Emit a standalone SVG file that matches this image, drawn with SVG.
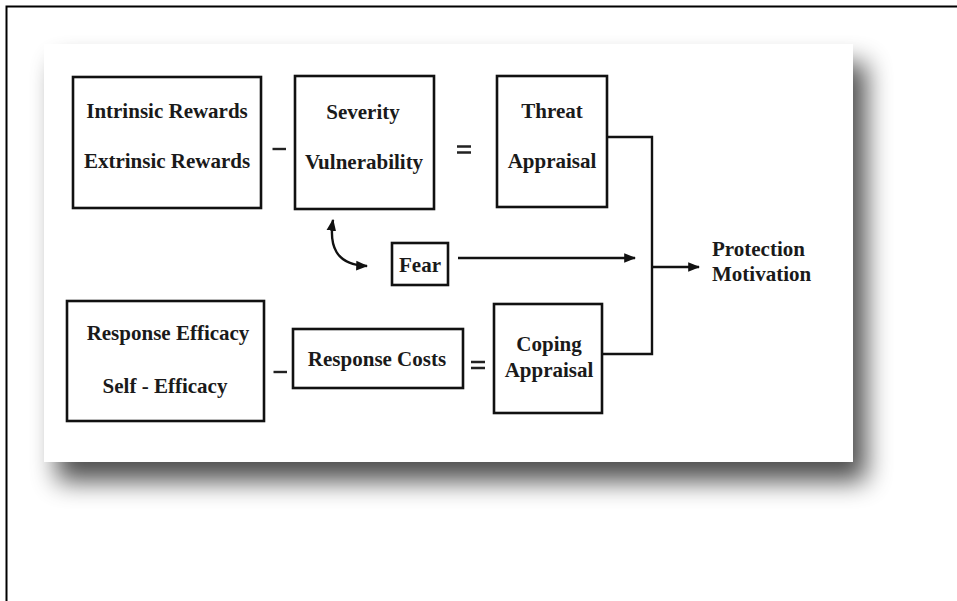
<svg xmlns="http://www.w3.org/2000/svg" width="957" height="601" viewBox="0 0 957 601">
  <style>
    .box { fill: none; stroke: #111; stroke-width: 2.6; }
    .lbl { font-family: "Liberation Serif", "Times New Roman", serif; font-weight: bold; font-size: 21px; fill: #1a1a1a; text-anchor: middle; }
    .op { stroke: #222; stroke-width: 2.4; fill: none; }
    .wire { stroke: #111; stroke-width: 2.4; fill: none; }
  </style>
  <defs>
    <filter id="cardShadow" x="-10%" y="-10%" width="130%" height="140%">
      <feGaussianBlur in="SourceAlpha" stdDeviation="13"/>
      <feOffset dx="13" dy="19" result="blur"/>
      <feComponentTransfer><feFuncA type="linear" slope="0.7"/></feComponentTransfer>
      <feMerge><feMergeNode/><feMergeNode in="SourceGraphic"/></feMerge>
    </filter>
    <marker id="head" viewBox="0 0 10 10" refX="9" refY="5" markerWidth="5" markerHeight="5" orient="auto-start-reverse" markerUnits="strokeWidth">
      <path d="M0,1 L10,5 L0,9 Z" fill="#111"/>
    </marker>
  </defs>

  <rect width="957" height="601" fill="#fff"/>
  <!-- outer frame (top and left edges) -->
  <path d="M6.5,601 V6.5 H957" fill="none" stroke="#000" stroke-width="2"/>

  <!-- card with soft drop shadow -->
  <rect x="44" y="44" width="809" height="418" fill="#fff" filter="url(#cardShadow)"/>

  <!-- connectors -->
  <g id="connectors">
    <path class="wire" d="M607,137 H652 V354 H602"/>
    <path class="wire" d="M652,267 H699" marker-end="url(#head)"/>
    <path class="wire" d="M458,258 H635" marker-end="url(#head)"/>
    <path class="wire" d="M333,220 C329,245 335,265 367,266" marker-start="url(#head)" marker-end="url(#head)"/>
    <!-- operators -->
    <path class="op" d="M272.5,149 H286"/>
    <path class="op" d="M457,146.5 H471 M457,152.5 H471"/>
    <path class="op" d="M273.5,372 H287"/>
    <path class="op" d="M471,362 H485 M471,368 H485"/>
  </g>

  <g id="rewards">
    <rect class="box" x="73" y="77" width="188" height="131"/>
    <text class="lbl" x="167" y="118">Intrinsic Rewards</text>
    <text class="lbl" x="167" y="168">Extrinsic Rewards</text>
  </g>
  <g id="severity">
    <rect class="box" x="295" y="76" width="139" height="133"/>
    <text class="lbl" x="363" y="119">Severity</text>
    <text class="lbl" x="364" y="169">Vulnerability</text>
  </g>
  <g id="threat">
    <rect class="box" x="497" y="76" width="110" height="131"/>
    <text class="lbl" x="552" y="118">Threat</text>
    <text class="lbl" x="552" y="168">Appraisal</text>
  </g>
  <g id="fear">
    <rect class="box" x="392" y="243" width="56" height="42"/>
    <text class="lbl" x="420" y="272">Fear</text>
  </g>
  <g id="protection">
    <text class="lbl" x="712" y="256" style="text-anchor:start">Protection</text>
    <text class="lbl" x="712" y="281" style="text-anchor:start">Motivation</text>
  </g>
  <g id="efficacy">
    <rect class="box" x="67" y="301" width="197" height="120"/>
    <text class="lbl" x="168" y="340">Response Efficacy</text>
    <text class="lbl" x="165" y="393">Self - Efficacy</text>
  </g>
  <g id="costs">
    <rect class="box" x="293" y="329" width="170" height="59"/>
    <text class="lbl" x="377" y="366">Response Costs</text>
  </g>
  <g id="coping">
    <rect class="box" x="494" y="304" width="108" height="109"/>
    <text class="lbl" x="549" y="351">Coping</text>
    <text class="lbl" x="549" y="377">Appraisal</text>
  </g>
</svg>
